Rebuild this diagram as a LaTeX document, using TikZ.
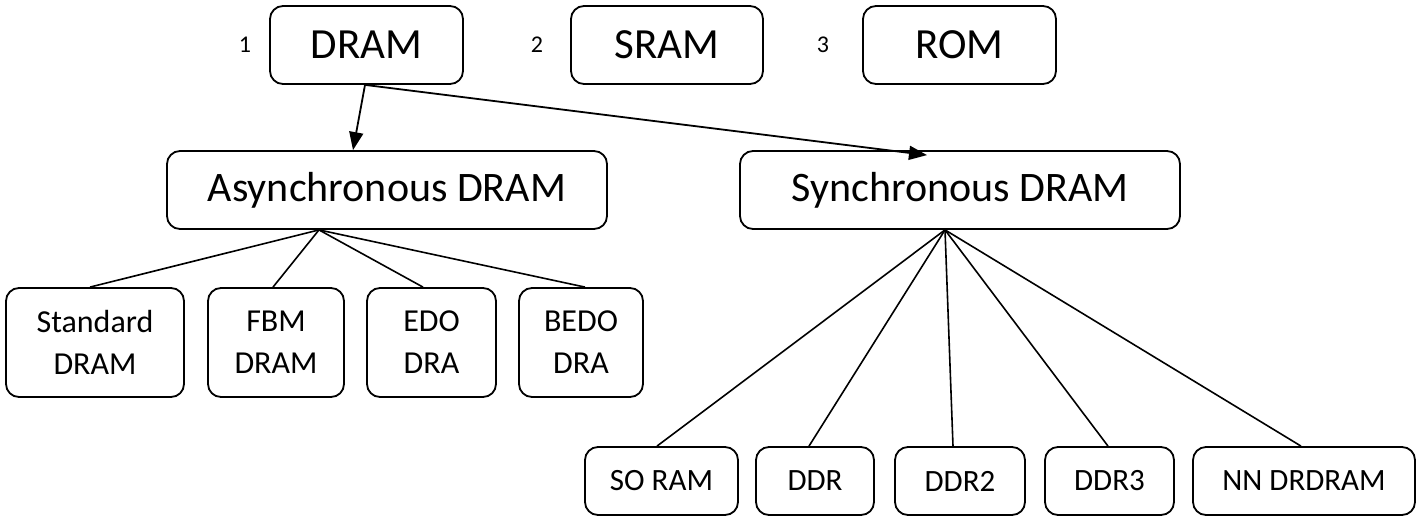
\documentclass[tikz,border=0pt]{standalone}
\usepackage{fontspec}
\setmainfont{Carlito}
\usetikzlibrary{arrows.meta}

\begin{document}
\begin{tikzpicture}[x=1pt,y=-1pt,
  box/.style={draw, line width=1.8pt, rounded corners=13pt, inner sep=0pt, align=center},
  topbox/.style={box, minimum height=78pt, font=\fontsize{43}{50}\selectfont},
  midbox/.style={box, minimum height=78pt, font=\fontsize{42}{50}\selectfont},
  leafbox/.style={box, minimum height=109pt, font=\fontsize{32}{42}\selectfont},
  lowbox/.style={box, minimum height=68pt, font=\fontsize{31}{37}\selectfont},
  num/.style={font=\fontsize{24}{28}\selectfont, inner sep=0pt},
  link/.style={line width=1.6pt},
  arr/.style={line width=1.8pt, -{Triangle[length=18pt,width=14pt]}}
]
\useasboundingbox (0,0) rectangle (1426,517);

% memory types
\node[topbox, minimum width=193pt] (dram) at (366.5,45) {DRAM};
\node[topbox, minimum width=192pt] (sram) at (667,45) {SRAM};
\node[topbox, minimum width=193pt] (rom)  at (959.5,45) {ROM};
\node[num] (n1) at (245,45) {1};
\node[num] (n2) at (537,45) {2};
\node[num] (n3) at (823,45) {3};

% DRAM families
\node[midbox, minimum width=440pt] (async) at (387,190) {Asynchronous DRAM};
\node[midbox, minimum width=440pt] (sync)  at (960,190) {Synchronous DRAM};

% asynchronous variants
\node[leafbox, minimum width=178pt] (std)  at (95,342.5)  {Standard\\DRAM};
\node[leafbox, minimum width=136pt] (fbm)  at (276,342.5) {FBM\\DRAM};
\node[leafbox, minimum width=129pt] (edo)  at (431.5,342.5) {EDO\\DRA};
\node[leafbox, minimum width=124pt] (bedo) at (581,342.5) {BEDO\\DRA};

% synchronous variants
\node[lowbox, minimum width=153pt] (soram) at (661.5,481) {SO RAM};
\node[lowbox, minimum width=118pt] (ddr)   at (815,481)   {DDR};
\node[lowbox, minimum width=130pt] (ddr2)  at (960,481)   {DDR2};
\node[lowbox, minimum width=129pt] (ddr3)  at (1109.5,481) {DDR3};
\node[lowbox, minimum width=222pt] (nn)    at (1304,481)  {NN DRDRAM};

% arrows from DRAM
\coordinate (dsrc) at ([xshift=-1.5pt]dram.south);
\draw[arr] (dsrc) -- ([xshift=-34pt]async.north);
\draw[arr] (dsrc) -- ([xshift=-33pt,yshift=-5pt]sync.north);

% asynchronous fan
\coordinate (afan) at ([xshift=-68pt]async.south);
\draw[link] (afan) -- ([xshift=-5pt]std.north);
\draw[link] (afan) -- ([xshift=-3pt]fbm.north);
\draw[link] (afan) -- ([xshift=-8.5pt]edo.north);
\draw[link] (afan) -- ([xshift=4pt]bedo.north);

% synchronous fan
\coordinate (sfan) at ([xshift=-15pt]sync.south);
\draw[link] (sfan) -- ([xshift=-4.5pt]soram.north);
\draw[link] (sfan) -- ([xshift=-6pt]ddr.north);
\draw[link] (sfan) -- ([xshift=-7pt]ddr2.north);
\draw[link] (sfan) -- ([xshift=-1.5pt]ddr3.north);
\draw[link] (sfan) -- ([xshift=-3pt]nn.north);
\end{tikzpicture}
\end{document}
